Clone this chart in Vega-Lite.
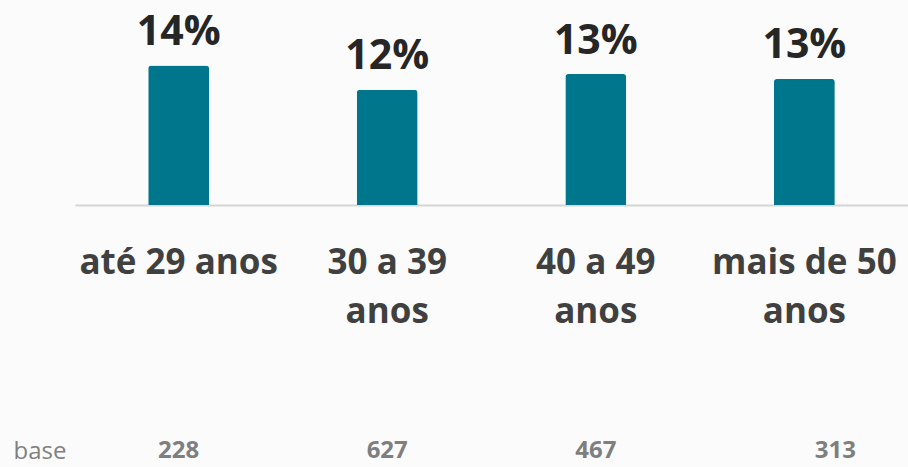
{
  "$schema": "https://vega.github.io/schema/vega-lite/v6.json",
  "width": 833,
  "height": 205,
  "autosize": "none",
  "padding": {"left": 75, "top": 0, "right": 0, "bottom": 262},
  "background": "#fbfbfb",
  "config": {"view": {"stroke": null}, "font": "Open Sans"},
  "data": {
    "values": [
      {"group": "até 29 anos", "pct": 14.0, "label": "14%", "base": "228"},
      {"group": "30 a 39 anos", "pct": 11.55, "label": "12%", "base": "627"},
      {"group": "40 a 49 anos", "pct": 13.15, "label": "13%", "base": "467"},
      {"group": "mais de 50 anos", "pct": 12.65, "label": "13%", "base": "313"}
    ]
  },
  "encoding": {
    "x": {
      "field": "group",
      "type": "nominal",
      "sort": null,
      "scale": {"paddingInner": 0.708, "paddingOuter": 0.351},
      "axis": {
        "title": "base",
        "titleFont": "Open Sans",
        "titleFontSize": 24,
        "titleFontWeight": "normal",
        "titleColor": "#808080",
        "titleAlign": "left",
        "titleBaseline": "alphabetic",
        "titleAnchor": "start",
        "titleX": -62,
        "titleY": 253,
        "labelAngle": 0,
        "labelFont": "Open Sans",
        "labelFontSize": 35,
        "labelFontWeight": "bold",
        "labelColor": "#404040",
        "labelBaseline": "alphabetic",
        "labelPadding": 68,
        "labelLineHeight": 49,
        "labelLimit": 0,
        "labelExpr": "datum.value == 'até 29 anos' ? datum.value : [replace(datum.value, ' anos', ''), 'anos']",
        "ticks": false,
        "tickSize": 0,
        "domainColor": "#d6d6d6",
        "domainWidth": 2,
        "grid": false
      }
    }
  },
  "layer": [
    {
      "mark": {"type": "bar", "color": "#00768c", "cornerRadiusTopLeft": 3, "cornerRadiusTopRight": 3},
      "encoding": {
        "y": {"field": "pct", "type": "quantitative", "scale": {"domain": [0, 20.58], "nice": false, "zero": true}, "axis": null}
      }
    },
    {
      "mark": {"type": "text", "font": "Open Sans", "fontSize": 41, "fontWeight": "bold", "color": "#262626", "baseline": "alphabetic", "dy": -20.5},
      "encoding": {
        "y": {"field": "pct", "type": "quantitative"},
        "text": {"field": "label"}
      }
    },
    {
      "transform": [{"filter": "datum.group != 'mais de 50 anos'"}],
      "mark": {"type": "text", "font": "Open Sans", "fontSize": 24, "fontWeight": "bold", "color": "#7f7f7f", "baseline": "alphabetic", "dy": 253},
      "encoding": {
        "y": {"datum": 0},
        "text": {"field": "base"}
      }
    },
    {
      "transform": [{"filter": "datum.group == 'mais de 50 anos'"}],
      "mark": {"type": "text", "font": "Open Sans", "fontSize": 24, "fontWeight": "bold", "color": "#7f7f7f", "baseline": "alphabetic", "dy": 253, "dx": 31},
      "encoding": {
        "y": {"datum": 0},
        "text": {"field": "base"}
      }
    }
  ]
}
